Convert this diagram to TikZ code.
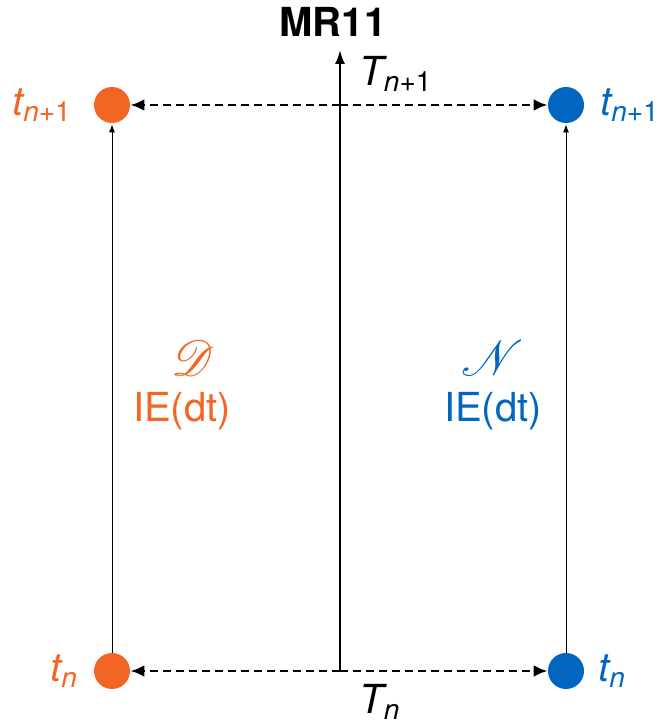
\documentclass[tikz,border=0pt]{standalone}
\usepackage{amsmath}
\usepackage{mathrsfs}
\usepackage{fontspec}
\setmainfont{TeX Gyre Heros}
\usetikzlibrary{arrows.meta}
\definecolor{orng}{RGB}{242,101,34}
\definecolor{blu}{RGB}{0,102,191}
\tikzset{
    dot/.style={circle, minimum size=18pt, inner sep=0pt},
    dasharrow/.style={-{Latex[length=7pt,width=6pt]}, dashed, dash pattern=on 4pt off 2.5pt, line width=1.4pt},
    steparrow/.style={-{Latex[length=4pt,width=3pt]}, line width=0.4pt, shorten >=0.5pt},
    lbl/.style={font=\fontsize{20}{24}\selectfont, inner sep=1pt},
    sym/.style={font=\fontsize{26}{30}\selectfont, inner sep=1pt}
}

\begin{document}
\begin{tikzpicture}[x=0.5pt, y=0.5pt]
	\useasboundingbox (0,0) rectangle (664,724);
	
	% time levels
	\node[dot, fill=orng] (o0) at (112,53) {};
	\node[dot, fill=orng] (o1) at (112,619) {};
	\node[dot, fill=blu] (b0) at (566,53) {};
	\node[dot, fill=blu] (b1) at (566,619) {};
	\coordinate (c0) at (340,53);
	\coordinate (c1) at (340,619);
	\coordinate (ctop) at (340,674);
	
	% main axis
	\draw[-{Latex[length=7pt,width=5pt]}, line width=1pt] (c0) -- (ctop);
	\node[font=\fontsize{20}{24}\selectfont\bfseries] (title) at (333,702) {MR11};
	\node[lbl] (Tn1) at (396,650) {$\textit{T}_{\textit{n}\text{+1}}$};
	\node[lbl] (Tn) at (380,22) {$\textit{T}_{\textit{n}}$};
	
	% exchange
	\foreach \a/\b in {c0/o0, c0/b0, c1/o1, c1/b1} {
			\draw[dasharrow] (\a) -- (\b);
	}
	
	% sub-steps
	\draw[steparrow] (o0) -- (o1);
	\draw[steparrow] (b0) -- (b1);
	
	\node[lbl, text=orng] (on1) at (42,619) {$\textit{t}_{\textit{n}\text{+1}}$};
	\node[lbl, text=orng] (on0) at (64,53) {$\textit{t}_{\textit{n}}$};
	\node[lbl, text=blu] (bn1) at (630,619) {$\textit{t}_{\textit{n}\text{+1}}$};
	\node[lbl, text=blu] (bn0) at (612,53) {$\textit{t}_{\textit{n}}$};
	
	\node[sym, text=orng] (osym) at (193,366) {$\mathscr{D}$};
	\node[lbl, text=orng] (oie) at (182,313) {IE(dt)};
	\node[sym, text=blu] (bsym) at (493,366) {$\mathscr{N}$};
	\node[lbl, text=blu] (bie) at (493,313) {IE(dt)};
	
\end{tikzpicture}
\end{document}
